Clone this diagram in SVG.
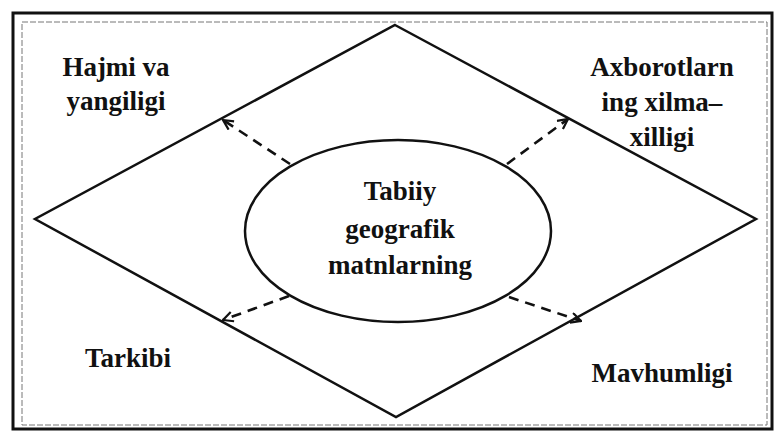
<svg xmlns="http://www.w3.org/2000/svg" width="777" height="434" viewBox="0 0 777 434">
<style>
.t{font-family:"Liberation Serif","Times New Roman",serif;font-weight:bold;font-size:27px;fill:#111;text-anchor:middle}
.shape{fill:none;stroke:#111;stroke-width:2.5}
.dash{fill:none;stroke:#111;stroke-width:2.6;stroke-dasharray:10 7;marker-end:url(#ah)}
</style>
<defs>
<marker id="ah" viewBox="0 0 12 12" refX="11" refY="6" markerWidth="12" markerHeight="12" markerUnits="userSpaceOnUse" orient="auto">
<path d="M1,1 L11,6 L1,11" fill="none" stroke="#111" stroke-width="2.2"/>
</marker>
</defs>
<rect width="777" height="434" fill="#fff"/>
<g id="frame">
<rect x="13" y="13" width="759" height="416" fill="none" stroke="#111" stroke-width="3"/>
<rect x="22" y="22" width="745" height="403" fill="none" stroke="#777" stroke-width="1" stroke-dasharray="6 2"/>
</g>
<g id="diamond">
<polygon class="shape" points="395,25 756,219 396,417 35,219"/>
</g>
<g id="center">
<ellipse class="shape" cx="398" cy="231" rx="153" ry="91"/>
<text class="t" x="400" y="200">Tabiiy</text>
<text class="t" x="400" y="238">geografik</text>
<text class="t" x="400" y="274">matnlarning</text>
</g>
<g id="hajmi">
<text class="t" x="116" y="76">Hajmi va</text>
<text class="t" x="116" y="110">yangiligi</text>
</g>
<g id="axborot">
<text class="t" x="662" y="76">Axborotlarn</text>
<text class="t" x="662" y="111">ing xilma–</text>
<text class="t" x="662" y="146">xilligi</text>
</g>
<g id="tarkibi">
<text class="t" x="128" y="367">Tarkibi</text>
</g>
<g id="mavhum">
<text class="t" x="662" y="382">Mavhumligi</text>
</g>
<g id="connectors">
<line class="dash" x1="290" y1="164" x2="223" y2="120"/>
<line class="dash" x1="507" y1="164" x2="568" y2="119"/>
<line class="dash" x1="289" y1="296" x2="223" y2="320"/>
<line class="dash" x1="509" y1="297" x2="581" y2="321"/>
</g>
</svg>
